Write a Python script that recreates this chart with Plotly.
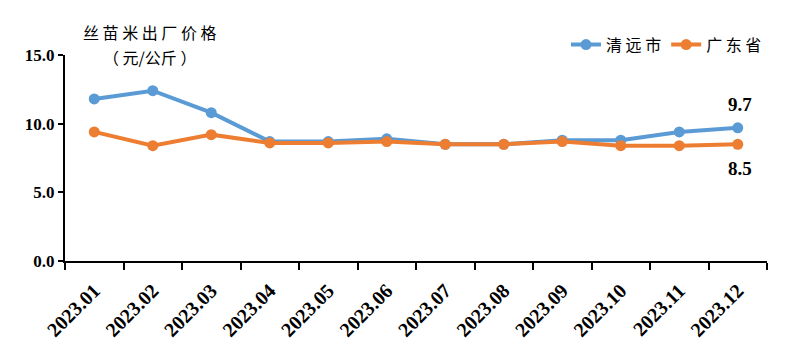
import plotly.graph_objects as go

months = ["2023.01", "2023.02", "2023.03", "2023.04", "2023.05", "2023.06",
          "2023.07", "2023.08", "2023.09", "2023.10", "2023.11", "2023.12"]
qingyuan = [11.8, 12.4, 10.8, 8.7, 8.7, 8.9, 8.5, 8.5, 8.8, 8.8, 9.4, 9.7]
guangdong = [9.4, 8.4, 9.2, 8.6, 8.6, 8.7, 8.5, 8.5, 8.7, 8.4, 8.4, 8.5]

blue = "#5B9BD5"
orange = "#ED7D31"
serif = "Liberation Serif, Times New Roman, serif"
cjk = "Noto Sans CJK SC"

idx = list(range(len(months)))
bounds = [i - 0.5 for i in range(len(months) + 1)]

fig = go.Figure()
fig.add_trace(go.Scatter(x=idx, y=qingyuan, name="清 远 市", mode="lines+markers",
                         line=dict(color=blue, width=4), marker=dict(size=11, color=blue)))
fig.add_trace(go.Scatter(x=idx, y=guangdong, name="广 东 省", mode="lines+markers",
                         line=dict(color=orange, width=4), marker=dict(size=11, color=orange)))

fig.add_annotation(x=idx[-1], y=qingyuan[-1], text="<b>9.7</b>", showarrow=False,
                   yshift=23, xshift=2, font=dict(family=serif, size=19, color="black"))
fig.add_annotation(x=idx[-1], y=guangdong[-1], text="<b>8.5</b>", showarrow=False,
                   yshift=-24, xshift=2, font=dict(family=serif, size=19, color="black"))

fig.add_annotation(xref="paper", yref="paper", x=0.121, y=1.0, yshift=23,
                   text="丝 苗 米 出 厂 价 格",
                   showarrow=False, yanchor="middle", xanchor="center",
                   font=dict(family=cjk, size=16, color="black"))
fig.add_annotation(xref="paper", yref="paper", x=0.121, y=1.0, yshift=-2,
                   text="（ 元/公斤 ）",
                   showarrow=False, yanchor="middle", xanchor="center",
                   font=dict(family=cjk, size=16, color="black"))

fig.update_layout(
    width=790, height=354,
    margin=dict(l=65, r=23, t=55, b=93),
    paper_bgcolor="white", plot_bgcolor="white",
    showlegend=True,
    legend=dict(orientation="h", x=1.0, xanchor="right", y=1.05, yanchor="middle",
                font=dict(family=cjk, size=16, color="black"), bgcolor="rgba(0,0,0,0)",
                tracegroupgap=0),
    xaxis=dict(range=[-0.5, 11.5], showline=True, linecolor="black", linewidth=2,
               tickvals=idx, ticktext=months, ticks="", ticklabelstandoff=8,
               tickangle=-45, showgrid=False, zeroline=False,
               minor=dict(tickvals=bounds, ticks="outside", ticklen=7, tickwidth=2,
                          tickcolor="black", showgrid=False),
               tickfont=dict(family=serif, size=20, color="black", weight="bold")),
    yaxis=dict(range=[0, 15], dtick=5, tickformat=".1f", showline=True, linecolor="black",
               linewidth=2, ticks="outside", ticklen=5, tickwidth=2, tickcolor="black",
               showgrid=False, zeroline=False,
               tickfont=dict(family=serif, size=17, color="black", weight="bold")),
)

fig.write_html("out.html")
